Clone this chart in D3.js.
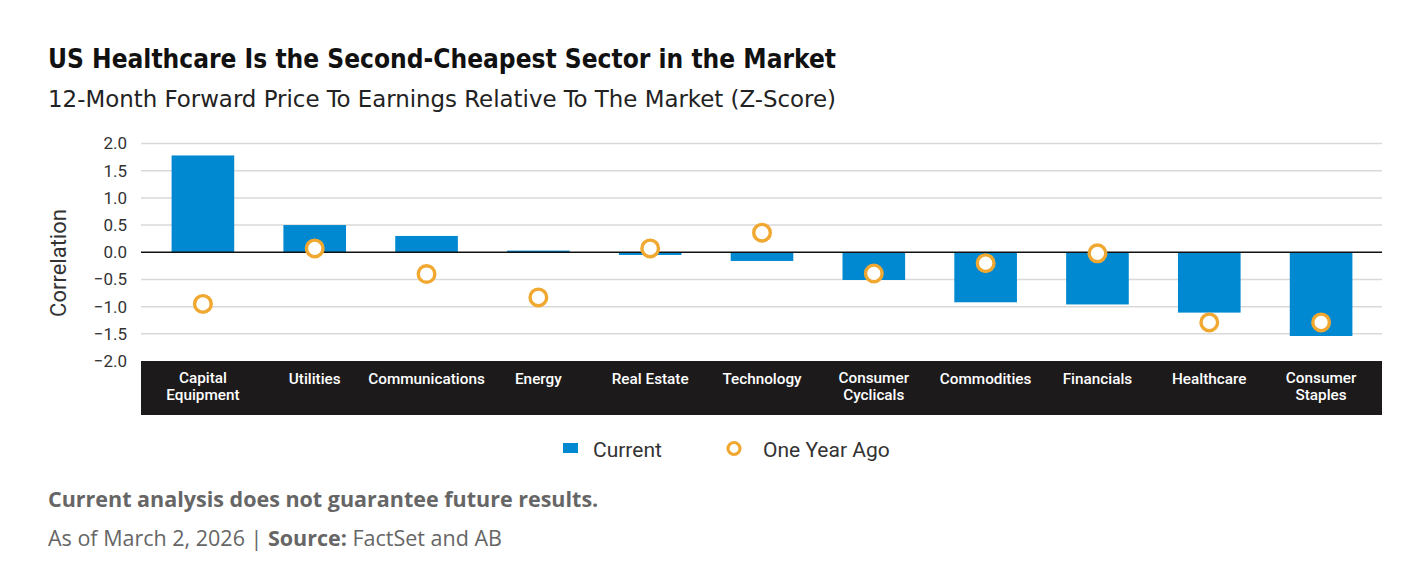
<!DOCTYPE html>
<html>
<head>
<meta charset="utf-8">
<script src="https://cdn.jsdelivr.net/npm/d3@7"></script>
<style>
  body { margin: 0; background: #fff; }
  svg text { font-family: Roboto, "Liberation Sans", sans-serif; }
</style>
</head>
<body>
<div id="chart_wrapper"></div>
<script>
// data
const sectors = ["Capital Equipment", "Utilities", "Communications", "Energy", "Real Estate", "Technology",
  "Consumer Cyclicals", "Commodities", "Financials", "Healthcare", "Consumer Staples"]
const sectorLines = [["Capital", "Equipment"], ["Utilities"], ["Communications"], ["Energy"], ["Real Estate"],
  ["Technology"], ["Consumer", "Cyclicals"], ["Commodities"], ["Financials"], ["Healthcare"], ["Consumer", "Staples"]]
const current = [1.78, 0.50, 0.30, 0.03, -0.05, -0.16, -0.51, -0.92, -0.96, -1.11, -1.54]
const oneYearAgo = [-0.95, 0.07, -0.40, -0.83, 0.07, 0.36, -0.39, -0.20, -0.02, -1.29, -1.29]
const yTicks = [2.0, 1.5, 1.0, 0.5, 0.0, -0.5, -1.0, -1.5, -2.0]

const W = 1420, H = 588
const BLUE = "#0088d1", ORANGE = "#f0a830"

const svg = d3.select('#chart_wrapper').append('svg')
  .attr('width', W)
  .attr('height', H)

// titles
svg.append('text')
  .attr('x', 48).attr('y', 68)
  .style('font-family', '"DejaVu Sans Condensed", "DejaVu Sans", sans-serif')
  .style('font-stretch', 'condensed')
  .style('font-weight', 700)
  .style('font-size', '27px')
  .attr('fill', '#111')
  .attr('textLength', 788).attr('lengthAdjust', 'spacingAndGlyphs')
  .text('US Healthcare Is the Second-Cheapest Sector in the Market')

svg.append('text')
  .attr('x', 48).attr('y', 107)
  .style('font-family', '"DejaVu Sans Condensed", "DejaVu Sans", sans-serif')
  .style('font-stretch', 'condensed')
  .style('font-weight', 300)
  .style('font-size', '23px')
  .attr('fill', '#222')
  .attr('textLength', 788).attr('lengthAdjust', 'spacingAndGlyphs')
  .text('12-Month Forward Price To Earnings Relative To The Market (Z-Score)')

const x = d3.scaleBand()
  .domain(sectors)
  .range([147, 1377])
  .paddingInner(0.44)
  .paddingOuter(0.22)

const y = d3.scaleLinear()
  .domain([-2, 2])
  .range([361, 143.5])

const gridLeft = 141, gridRight = 1382

// gridlines
svg.append('g').selectAll('line')
  .data(yTicks.filter(d => d > -2))
  .join('line')
  .attr('x1', gridLeft).attr('x2', gridRight)
  .attr('y1', d => y(d)).attr('y2', d => y(d))
  .attr('stroke', d => d === 0 ? 'none' : '#d9d9d9')
  .attr('stroke-width', 1.5)

// y axis labels
const yAxis = svg.append('g')
  .attr('transform', `translate(${gridLeft},0)`)
  .call(d3.axisLeft(y).tickValues(yTicks).tickSize(0).tickPadding(14).tickFormat(d3.format('.1f')))
yAxis.select('.domain').remove()
yAxis.selectAll('text')
  .style('font-size', '17px')
  .style('font-family', 'Roboto, "Liberation Sans", sans-serif')
  .attr('fill', '#333')

svg.append('text')
  .attr('transform', 'translate(66,263) rotate(-90)')
  .attr('text-anchor', 'middle')
  .style('font-size', '22px')
  .attr('fill', '#333')
  .text('Correlation')

// bars
svg.append('g').selectAll('rect')
  .data(current)
  .join('rect')
  .attr('x', (d, i) => x(sectors[i]))
  .attr('width', x.bandwidth())
  .attr('y', d => y(Math.max(0, d)))
  .attr('height', d => Math.abs(y(d) - y(0)))
  .attr('fill', BLUE)

// zero line
svg.append('line')
  .attr('x1', gridLeft).attr('x2', gridRight)
  .attr('y1', y(0)).attr('y2', y(0))
  .attr('stroke', '#111')
  .attr('stroke-width', 1.5)

// one year ago markers
svg.append('g').selectAll('circle')
  .data(oneYearAgo)
  .join('circle')
  .attr('cx', (d, i) => x(sectors[i]) + x.bandwidth() / 2)
  .attr('cy', d => y(d))
  .attr('r', 8.3)
  .attr('fill', '#fff')
  .attr('stroke', ORANGE)
  .attr('stroke-width', 3.4)

// category band
svg.append('rect')
  .attr('x', gridLeft).attr('y', 361)
  .attr('width', gridRight - gridLeft).attr('height', 54)
  .attr('fill', '#1c1a1b')

const labels = svg.append('g').selectAll('text')
  .data(sectors)
  .join('text')
  .attr('x', d => x(d) + x.bandwidth() / 2)
  .attr('y', (d, i) => sectorLines[i].length > 1 ? 383 : 384)
  .attr('text-anchor', 'middle')
  .style('font-size', '15.3px')
  .style('font-weight', 500)
  .attr('fill', '#fff')
labels.selectAll('tspan')
  .data((d, i) => sectorLines[i])
  .join('tspan')
  .attr('x', function () { return this.parentNode.getAttribute('x') })
  .attr('dy', (d, i) => i === 0 ? 0 : 16.5)
  .text(d => d)

// legend
const legend = svg.append('g')
legend.append('rect')
  .attr('x', 563).attr('y', 443).attr('width', 15).attr('height', 10)
  .attr('fill', BLUE)
legend.append('text')
  .attr('x', 593).attr('y', 457)
  .style('font-size', '21px').attr('fill', '#333')
  .text('Current')
legend.append('circle')
  .attr('cx', 734).attr('cy', 448.5).attr('r', 6)
  .attr('fill', '#fff').attr('stroke', ORANGE).attr('stroke-width', 3.2)
legend.append('text')
  .attr('x', 763).attr('y', 457)
  .style('font-size', '21px').attr('fill', '#333')
  .text('One Year Ago')

// footer
svg.append('text')
  .attr('x', 48).attr('y', 507)
  .style('font-family', '"Open Sans", "Liberation Sans", sans-serif')
  .style('font-size', '21.5px').style('font-weight', 700)
  .attr('fill', '#666')
  .text('Current analysis does not guarantee future results.')

const foot = svg.append('text')
  .attr('x', 48).attr('y', 546)
  .style('font-family', '"Open Sans", "Liberation Sans", sans-serif')
  .style('font-size', '21.5px')
  .attr('fill', '#666')
foot.append('tspan').text('As of March 2, 2026 | ')
foot.append('tspan').style('font-weight', 700).text('Source:')
foot.append('tspan').text(' FactSet and AB')
</script>
</body>
</html>
